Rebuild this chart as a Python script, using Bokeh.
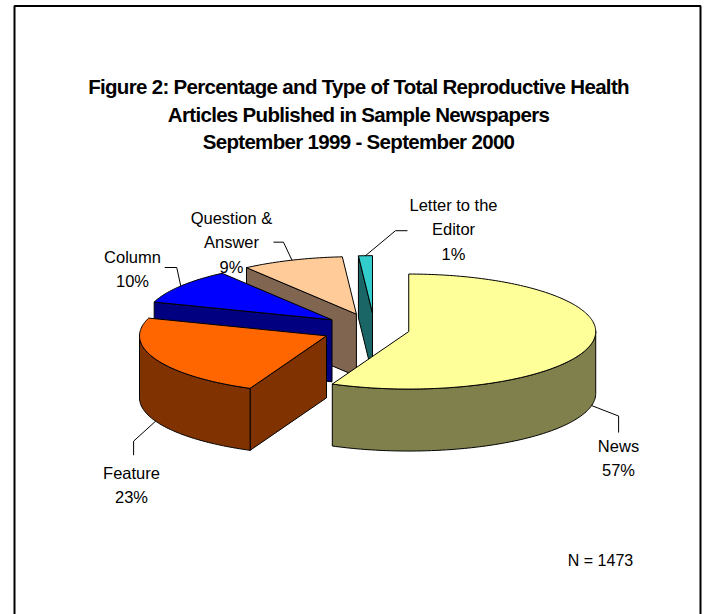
import math
from bokeh.plotting import figure
from bokeh.layouts import column
from bokeh.core.properties import value
from bokeh.embed import file_html
from bokeh.resources import INLINE

# Data
categories = ["News", "Feature", "Column", "Question & Answer", "Letter to the Editor"]
shares = [56.7, 23.3, 10.0, 8.8, 1.2]
explode_px = [35, 52.5, 52.5, 52.5, 52.5]
top_colors = ["#FFFF99", "#FF6600", "#0000FF", "#FFCC99", "#33CCCC"]
side_colors = ["#80804D", "#803300", "#000080", "#806650", "#1A6666"]
label_lines = [["News", "57%"], ["Feature", "23%"], ["Column", "10%"],
               ["Question &", "Answer", "9%"], ["Letter to the", "Editor", "1%"]]
label_x = [618, 131, 132, 231, 453]
label_y = [445, 472, 256, 217, 204]
# leader elbows relative to slice rim point
elbow_a = [(27, 10.5), (-22, 20), (-4, -18.5), (-8.5, -18), (30, -25)]
elbow_b = [(27, 27), (-22, 34), (-16, -18.5), (-18.5, -18), (42, -25)]
title_lines = ["Figure 2: Percentage and Type of Total Reproductive Health",
               "Articles Published in Sample Newspapers",
               "September 1999 - September 2000"]
title_y = [85.5, 113.5, 141]
note = "N = 1473"

CX, CY, A, B, DEPTH = 374.0, 328.8, 187.0, 57.5, 62.0
TRACKING = 0.68
TITLE_LEFT, TITLE_W, TITLE_H = 30, 640, 165


def panel(w, h, x0, x1, y0, y1, styles=None):
    f = figure(width=w, height=h, x_range=(x0, x1), y_range=(y1, y0),
               toolbar_location=None, output_backend="svg", min_border=0,
               styles=styles or {})
    f.axis.visible = False
    f.grid.visible = False
    f.outline_line_color = None
    f.background_fill_color = None
    f.border_fill_color = None
    return f


p = panel(706, 614, 0, 706, 0, 614)
t = panel(TITLE_W, TITLE_H, TITLE_LEFT, TITLE_LEFT + TITLE_W, 0, TITLE_H,
          {"letter-spacing": f"-{TRACKING}px", "position": "absolute",
           "top": "0px", "left": f"{TITLE_LEFT}px"})

p.line([14, 14, 700, 700], [620, 5.5, 5.5, 620], line_color="#000000", line_width=2)


def rim(ox, oy, a, drop=0.0):
    return ox + A * math.sin(a), oy - B * math.cos(a) + drop


def arc(ox, oy, t0, t1, drop=0.0):
    n = max(2, int(abs(t1 - t0) / 0.02))
    return [rim(ox, oy, t0 + (t1 - t0) * i / n, drop) for i in range(n + 1)]


def face(pts, color):
    p.patch([q[0] for q in pts], [q[1] for q in pts], fill_color=color,
            line_color="#000000", line_width=1, line_join="round")


slices = []
acc = 0.0
for i, s in enumerate(shares):
    t0 = acc / 100 * 2 * math.pi
    acc += s
    t1 = acc / 100 * 2 * math.pi
    mid = (t0 + t1) / 2
    ox = CX + explode_px[i] * math.sin(mid)
    oy = CY - explode_px[i] * B / A * math.cos(mid)
    slices.append((i, t0, t1, mid, ox, oy))

for i, t0, t1, mid, ox, oy in reversed(slices):
    # radial wall at the start of the slice
    if math.sin(t0) < -1e-6:
        a = rim(ox, oy, t0)
        face([(ox, oy), a, (a[0], a[1] + DEPTH), (ox, oy + DEPTH)], side_colors[i])
    # outer wall, front half only
    lo, hi = max(t0, math.pi / 2), min(t1, 3 * math.pi / 2)
    if hi > lo:
        upper = arc(ox, oy, lo, hi)
        lower = arc(ox, oy, hi, lo, DEPTH)
        face(upper + lower, side_colors[i])
    face([(ox, oy)] + arc(ox, oy, t0, t1), top_colors[i])

for i, t0, t1, mid, ox, oy in slices:
    front = math.cos(mid) < 0
    sx, sy = rim(ox, oy, mid, DEPTH if front else 0.0)
    ax, ay = sx + elbow_a[i][0], sy + elbow_a[i][1]
    bx, by = sx + elbow_b[i][0], sy + elbow_b[i][1]
    p.line([sx, ax, bx], [sy, ay, by], line_color="#000000", line_width=1)
    for k, line in enumerate(label_lines[i]):
        p.text([label_x[i]], [label_y[i] + k * 24.6], text=[line], text_align="center",
               text_baseline="middle", text_font=value("Liberation Sans"),
               text_font_size="16.5px", text_color="#000000")

for line, y in zip(title_lines, title_y):
    # Bokeh centres on the untracked width, so half the tracking is added back
    t.text([358 + TRACKING / 2 * len(line)], [y], text=[line], text_align="center",
           text_baseline="middle", text_font=value("Liberation Sans"),
           text_font_style="bold", text_font_size="20.5px", text_color="#000000")
p.text([600], [560], text=[note], text_align="center", text_baseline="middle",
       text_font=value("Liberation Sans"), text_font_size="16px", text_color="#000000")

page = column(p, t, spacing=0)
open("out.html", "w").write(file_html(page, INLINE))
